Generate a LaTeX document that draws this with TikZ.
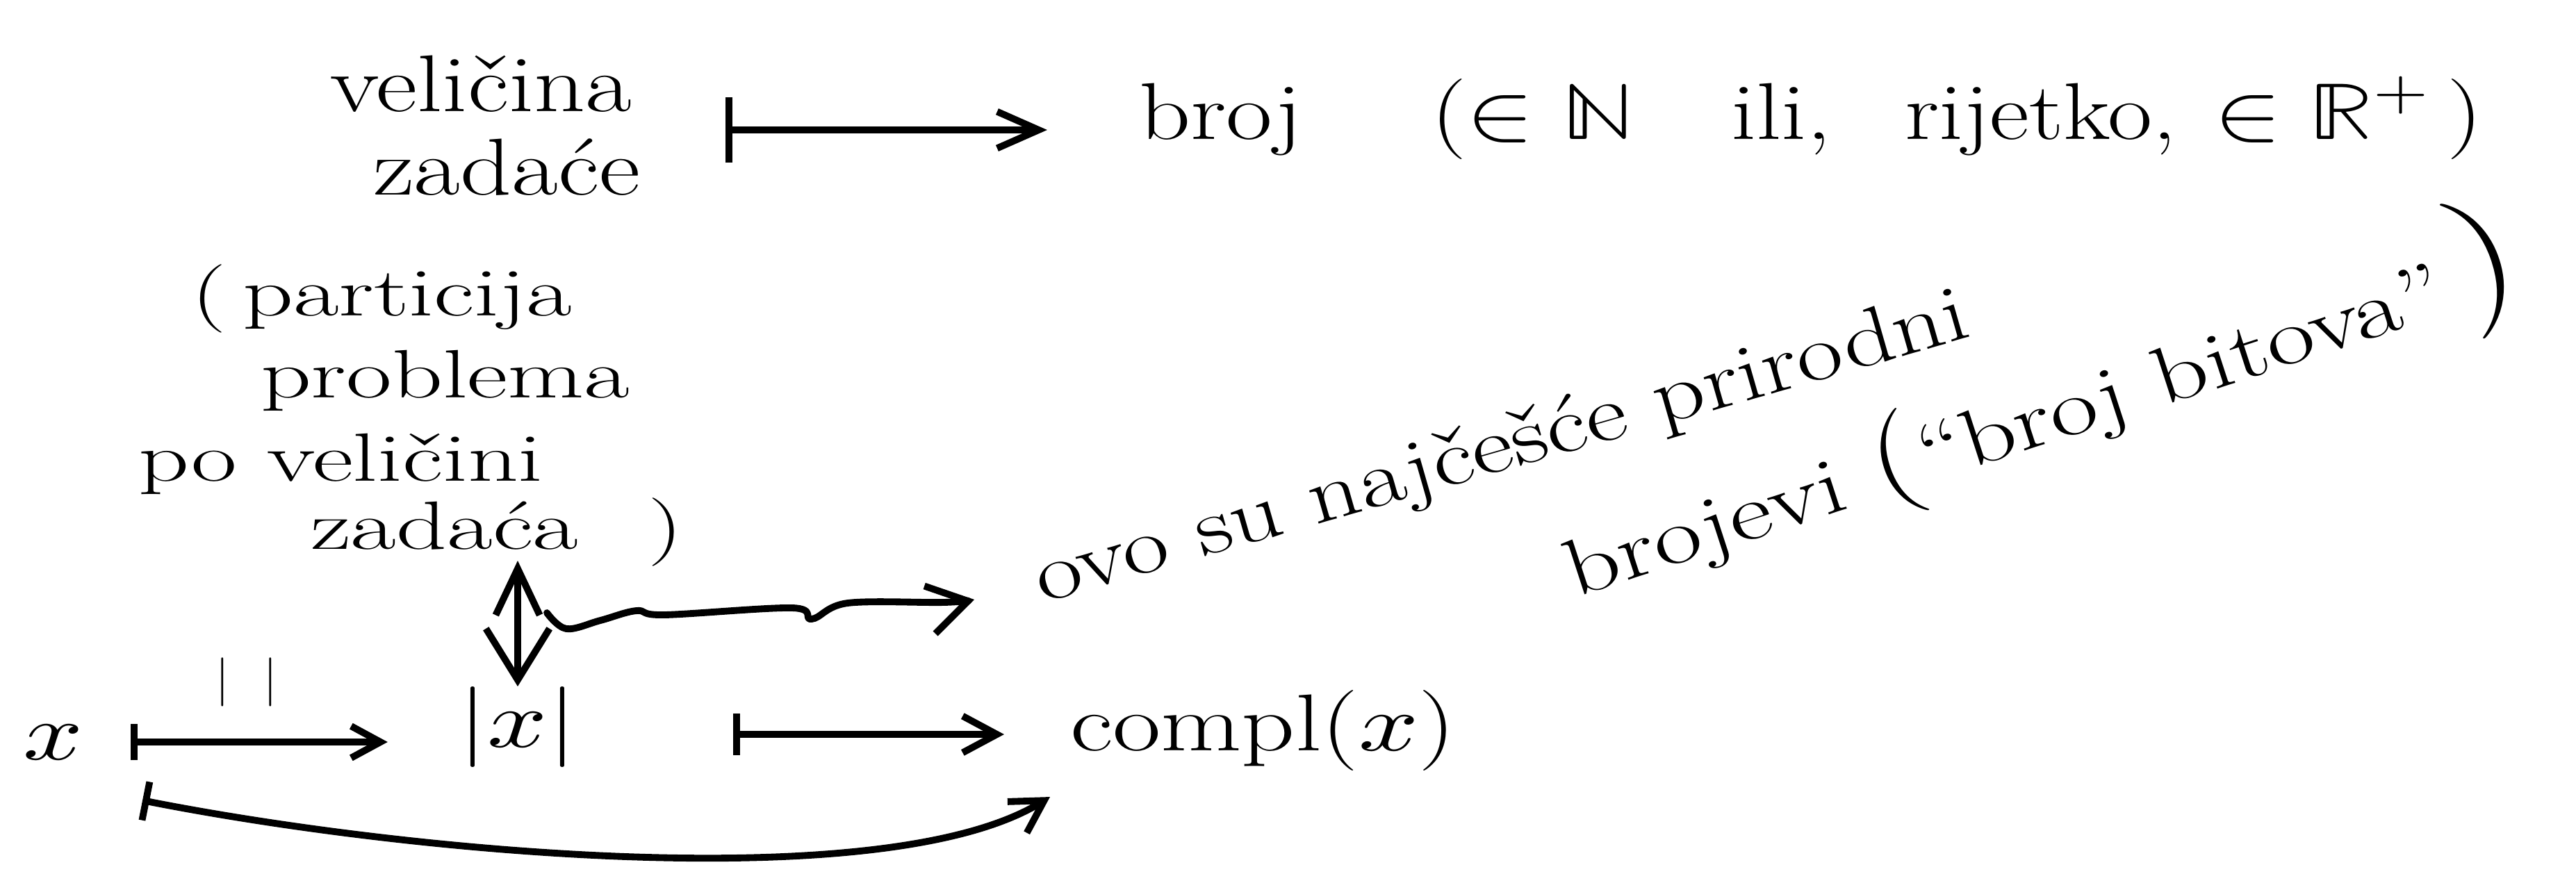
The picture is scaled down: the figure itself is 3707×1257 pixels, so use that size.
\documentclass[tikz,border=0pt]{standalone}
\usepackage{fontspec}
\usepackage{unicode-math}
\usepackage{graphicx}
\usetikzlibrary{arrows.meta}
\newcommand{\hs}[2]{\scalebox{#1}[1]{#2}}
\begin{document}
\begin{tikzpicture}[x=0.01cm,y=-0.01cm,
  hw/.style={inner sep=0pt, outer sep=0pt, font=\fontsize{33}{38}\selectfont},
  blk/.style={inner sep=0pt, outer sep=0pt, font=\fontsize{28}{32}\selectfont},
  stroke/.style={line width=2.8pt, line cap=round, line join=round},
  mapsto/.style={stroke, {Bar[width=16pt]}-{Straight Barb[length=13pt,width=15pt]}},
  ]
\fill[white] (0,0) rectangle (3707,1257);
\useasboundingbox (0,0) rectangle (3707,1257);

% top row
\node[hw, anchor=base west] (v1) at (475,160) {\hs{1.25}{veličina}};
\node[hw, anchor=base west] (v2) at (537,280) {\hs{1.25}{zadaće}};
\node[hw, anchor=base west] (broj) at (1639,200) {\hs{1.25}{broj}};
\node[hw, anchor=base west] (t1) at (2059,200) {\hs{1.25}{($\in\mathbb{N}$}};
\node[hw, anchor=base west] (t2) at (2491,200) {\hs{1.25}{ili,}};
\node[hw, anchor=base west] (t3) at (2741,200) {\hs{1.2}{rijetko,}};
\node[hw, anchor=base west] (t4) at (3186,200) {\hs{1.25}{$\in\mathbb{R}^{+}$\,)}};

% parenthetical block
\node[blk, anchor=base west] (p1) at (275,454) {\hs{1.45}{(\,particija}};
\node[blk, anchor=base west] (p2) at (375,572) {\hs{1.45}{problema}};
\node[blk, anchor=base west] (p3) at (199,692) {\hs{1.45}{po veličini}};
\node[blk, anchor=base west] (p4) at (447,790) {\hs{1.45}{zadaća\hspace{0.7em})}};

% rotated remark
\node[hw, anchor=base west, rotate=16] (r1) at (1500,868) {\hs{1.25}{ovo su najčešće prirodni}};
\node[hw, anchor=base west, rotate=18] (r2) at (2266,860) {\hs{1.3}{brojevi {\fontsize{44}{44}\selectfont(}``broj bitova''\hspace{0.15em}{\fontsize{58}{58}\selectfont)}}};

% bottom row
\node[hw, anchor=base] (xn) at (77,1093) {\hs{1.3}{$x$}};
\node[hw, anchor=base] (absx) at (745,1075) {\hs{1.3}{$|x|$}};
\node[hw, anchor=base west] (cp) at (1540,1080) {\hs{1.3}{compl($x$)}};
\node[inner sep=0pt, font=\fontsize{20}{20}\selectfont] (lab) at (355,982) {$|\hspace{0.7em}|$};

% arrows
\coordinate (a1) at ([shift={(1.35cm,-0.27cm)}]v1.base east);
\draw[mapsto, {Bar[width=27pt]}-{Straight Barb[length=17pt,width=15pt]}] (a1) -- ([xshift=-1.32cm]a1 -| broj.west);

\coordinate (a2) at ([xshift=0.68cm]xn.east);
\draw[mapsto, {Bar[width=15pt]}-{Straight Barb[length=12pt,width=13pt]}] (a2) -- ([xshift=-1.02cm]a2 -| absx.west);

\coordinate (a3) at ([shift={(2.25cm,-0.11cm)}]absx.east);
\draw[mapsto, {Bar[width=17pt]}-{Straight Barb[length=14pt,width=15pt]}] (a3) -- ([xshift=-0.95cm]a3 -| cp.west);

\draw[mapsto] ([shift={(1.28cm,-0.59cm)}]xn.base) .. controls +(3.95cm,-0.78cm) and +(-2.31cm,-1.43cm) .. ([shift={(-0.29cm,-0.67cm)}]cp.base west);

\draw[stroke, {Straight Barb[length=19pt,width=18pt]}-{Straight Barb[length=21pt,width=26pt]}] ([yshift=-0.17cm]p4.base -| absx.north) -- (absx.north);

\draw[stroke, -{Straight Barb[length=16pt,width=20pt]}] plot[smooth, tension=0.6] coordinates {(787,882) (815,905) (864,893) (916,879) (956,885) (1140,875) (1168,891) (1220,868) (1358,867) (1402,863)};
\end{tikzpicture}
\end{document}
